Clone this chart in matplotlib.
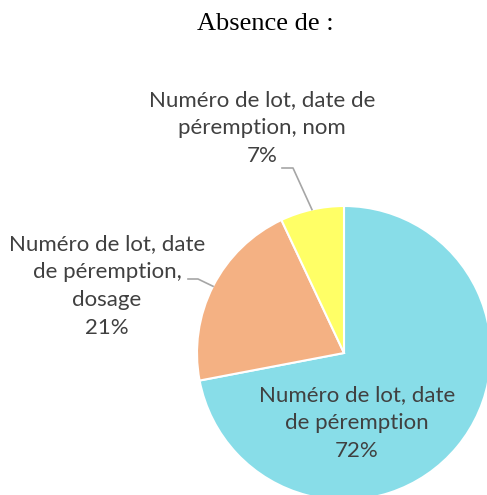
import numpy as np
import matplotlib.pyplot as plt

# ---------------------------------------------------------------------------
# Data
# ---------------------------------------------------------------------------
TITLE = "Absence de :"
LABELS = [
    "Numéro de lot, date\nde péremption",
    "Numéro de lot, date\nde péremption,\ndosage",
    "Numéro de lot, date de\npéremption, nom",
]
VALUES = [72, 21, 7]
COLORS = ["#88DDE8", "#F4B183", "#FFFF66"]

# ---------------------------------------------------------------------------
# Layout (pixel units, y measured from the top of the image)
# ---------------------------------------------------------------------------
W, H = 487, 495
CENTER = (344, 353)
RADIUS = 147
LABEL_POS = [(357, 423), (107, 286), (262, 128)]
# leader line: start next to the text, then elbow, then to the wedge edge
LEADERS = {1: [(188, 279), (198, 279)], 2: [(282, 168), (293, 168)]}
TEXT_COLOR = "#404040"
LINE_COLOR = "#A6A6A6"
FONT = "Lato"


def fy(y):
    return H - y


fig = plt.figure(figsize=(W / 100, H / 100), dpi=100)
ax = fig.add_axes([0, 0, 1, 1])

wedges, _ = ax.pie(
    VALUES, colors=COLORS, startangle=90, counterclock=False,
    center=(CENTER[0], fy(CENTER[1])), radius=RADIUS,
    wedgeprops=dict(edgecolor="white", linewidth=1.5),
)
ax.set_xlim(0, W)
ax.set_ylim(0, H)
ax.set_aspect("equal")
ax.axis("off")

for i, (w, lab, val) in enumerate(zip(wedges, LABELS, VALUES)):
    x, y = LABEL_POS[i]
    ax.text(x, fy(y), f"{lab}\n{val}%", ha="center", va="center",
            fontsize=16, family=FONT, color=TEXT_COLOR, linespacing=1.5)
    if i in LEADERS:
        ang = np.deg2rad((w.theta1 + w.theta2) / 2)
        ex = CENTER[0] + RADIUS * np.cos(ang)
        ey = fy(CENTER[1]) + RADIUS * np.sin(ang)
        pts = LEADERS[i]
        xs = [p[0] for p in pts] + [ex]
        ys = [fy(p[1]) for p in pts] + [ey]
        ax.plot(xs, ys, color=LINE_COLOR, linewidth=1.2)

fig.text(265 / W, 1 - 24 / H, TITLE, ha="center", va="center",
         fontsize=19, family="Liberation Serif", color="black")

fig.savefig("out.png", dpi=100)
